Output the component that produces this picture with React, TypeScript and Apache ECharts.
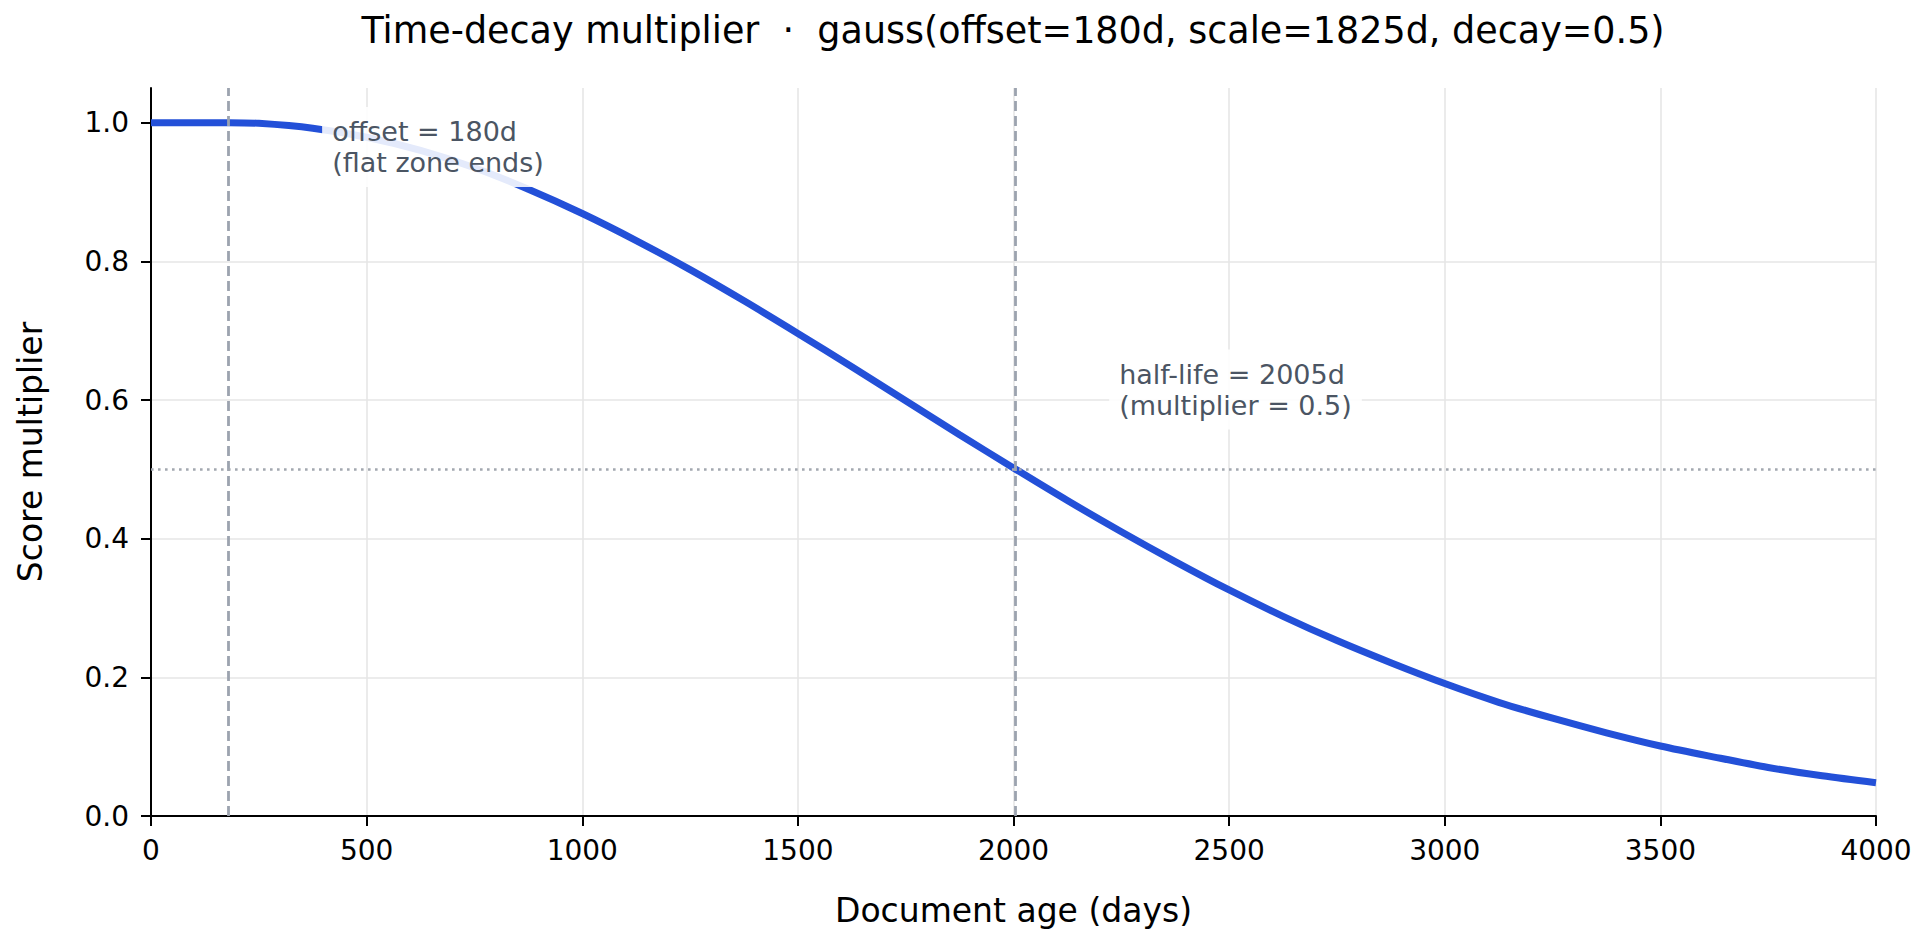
import React, { useEffect, useRef } from "react";
import * as echarts from "echarts";

// ---- data ----
const TITLE = "Time-decay multiplier  ·  gauss(offset=180d, scale=1825d, decay=0.5)";
const X_NAME = "Document age (days)";
const Y_NAME = "Score multiplier";

const AGE_DAYS = [
  0, 90, 180, 250, 375, 500, 625, 750, 875, 1000, 1125, 1250, 1375, 1500, 1625, 1750, 1875,
  2000, 2125, 2250, 2375, 2500, 2625, 2750, 2875, 3000, 3125, 3250, 3375, 3500, 3625,
  3750, 3875, 4000,
];
const MULTIPLIER = [
  1.0, 1.0, 1.0, 0.999, 0.992, 0.979, 0.96, 0.935, 0.904, 0.869, 0.83, 0.788, 0.743, 0.696,
  0.648, 0.599, 0.55, 0.502, 0.455, 0.41, 0.367, 0.326, 0.288, 0.253, 0.221, 0.191,
  0.164, 0.141, 0.12, 0.101, 0.085, 0.07, 0.058, 0.048,
];

const X_TICKS = [0, 500, 1000, 1500, 2000, 2500, 3000, 3500, 4000];
const Y_TICKS = [0, 0.2, 0.4, 0.6, 0.8, 1.0];

const VERTICAL_MARKS = [180, 2005]; // offset, half-life
const HALF_LEVEL = 0.5;

const ANNOTATIONS = [
  { x: 420, y: 0.965, text: "offset = 180d\n(flat zone ends)" },
  { x: 2245, y: 0.615, text: "half-life = 2005d\n(multiplier = 0.5)" },
];

const FONT = "DejaVu Sans";

export default function App() {
  const ref = useRef<HTMLDivElement>(null);

  useEffect(() => {
    document.body.style.margin = "0";
    const chart = echarts.init(ref.current!, null, { renderer: "svg" });
    const axisLineStyle = { color: "#000", width: 2 };
    const gridLine = { color: "#e6e6e6", width: 1.6 };

    chart.setOption({
      animation: false,
      backgroundColor: "#fff",
      title: {
        text: TITLE,
        left: 1013,
        top: 12,
        textAlign: "center",
        padding: 0,
        textStyle: { fontFamily: FONT, fontSize: 36.5, fontWeight: "normal", color: "#000" },
      },
      grid: { left: 151, right: 48, top: 88, bottom: 130, containLabel: false },
      xAxis: {
        type: "value",
        min: 0,
        max: 4000,
        interval: 500,
        name: X_NAME,
        nameLocation: "middle",
        nameGap: 78,
        nameTextStyle: { fontFamily: FONT, fontSize: 33, color: "#000" },
        axisLine: { show: true, lineStyle: axisLineStyle },
        axisTick: { show: true, length: 10, lineStyle: axisLineStyle, customValues: X_TICKS },
        axisLabel: {
          fontFamily: FONT,
          fontSize: 28,
          color: "#000",
          margin: 20,
          customValues: X_TICKS,
          formatter: (v: number) => String(v),
        },
        splitLine: { show: true, showMinLine: false, lineStyle: gridLine },
      },
      yAxis: {
        type: "value",
        min: 0,
        max: 1.05,
        interval: 0.2,
        name: Y_NAME,
        nameLocation: "middle",
        nameGap: 104,
        nameTextStyle: { fontFamily: FONT, fontSize: 33, color: "#000" },
        axisLine: { show: true, lineStyle: axisLineStyle },
        axisTick: { show: true, length: 10, lineStyle: axisLineStyle, customValues: Y_TICKS },
        axisLabel: {
          fontFamily: FONT,
          fontSize: 28,
          color: "#000",
          margin: 22,
          customValues: Y_TICKS,
          formatter: (v: number) => v.toFixed(1),
        },
        splitLine: { show: true, showMinLine: false, showMaxLine: false, lineStyle: gridLine },
      },
      series: [
        {
          type: "line",
          data: AGE_DAYS.map((d, i) => [d, MULTIPLIER[i]]),
          showSymbol: false,
          symbol: "none",
          smooth: 0.3,
          lineStyle: { color: "#2350d8", width: 7, cap: "butt" },
          z: 2,
          markLine: {
            silent: true,
            symbol: ["none", "none"],
            label: { show: false },
            z: 3,
            data: [
              ...VERTICAL_MARKS.map((v) => ({
                xAxis: v,
                lineStyle: { color: "#9ca3af", width: 2.8, type: [10, 5] },
              })),
              {
                yAxis: HALF_LEVEL,
                lineStyle: { color: "#a3a8b0", width: 2.6, type: [2.6, 4.4] },
              },
            ],
          },
          markPoint: {
            silent: true,
            symbol: "circle",
            symbolSize: 0,
            z: 5,
            label: {
              show: true,
              position: "right",
              distance: 0,
              offset: [-10, 0],
              fontFamily: FONT,
              fontSize: 27,
              lineHeight: 31,
              color: "#4b5563",
              align: "left",
              backgroundColor: "rgba(255,255,255,0.88)",
              borderRadius: 4,
              padding: [9, 10],
            },
            data: ANNOTATIONS.map((a) => ({
              coord: [a.x, a.y],
              label: { formatter: a.text },
            })),
          },
        },
      ],
    });
    return () => chart.dispose();
  }, []);

  return (
    <div
      ref={ref}
      style={{ position: "absolute", left: 0, top: 0, width: "1924px", height: "946px" }}
    />
  );
}
